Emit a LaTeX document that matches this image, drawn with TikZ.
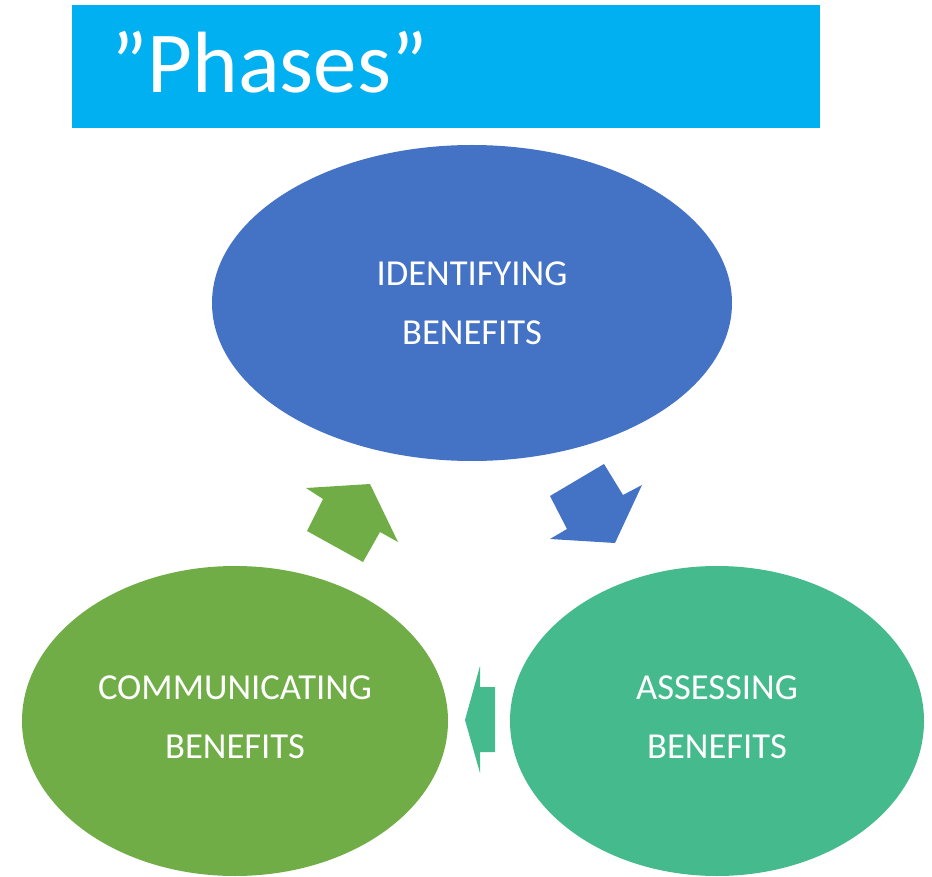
\documentclass[tikz,border=0pt]{standalone}
\usepackage{fontspec}
\setmainfont{Carlito}
\usetikzlibrary{shapes.geometric}

\definecolor{titlecyan}{HTML}{00B0F0}
\definecolor{phaseblue}{HTML}{4472C4}
\definecolor{phasegreen}{HTML}{70AD47}
\definecolor{phaseteal}{HTML}{44BA8D}

\tikzset{
  phase/.style={ellipse, inner sep=0pt, draw=none},
  phaselabel/.style={text=white, align=center, font=\fontsize{36.6}{59}\selectfont}
}

\begin{document}
\begin{tikzpicture}[x=1pt, y=-1pt]
\useasboundingbox (0,0) rectangle (932,877);

% title bar
\fill[titlecyan] (72,5) rectangle (820,128);
\node[anchor=base west, text=white, inner sep=0pt, font=\fontsize{87}{100}\selectfont] (title) at (111,93) {”Phases”};

% the three phases
\node[phase, fill=phaseblue, minimum width=520pt, minimum height=316pt] (ident) at (472,303) {};
\node[phase, fill=phasegreen, minimum width=426pt, minimum height=310pt] (comm) at (235,721) {};
\node[phase, fill=phaseteal, minimum width=414pt, minimum height=310pt] (assess) at (717,721) {};

\node[phaselabel] (identtxt) at (ident.center) {IDENTIFYING\\BENEFITS};
\node[phaselabel] (commtxt) at ([yshift=4pt]comm.center) {COMMUNICATING\\BENEFITS};
\node[phaselabel] (assesstxt) at ([yshift=4pt]assess.center) {ASSESSING\\BENEFITS};

% block arrows between phases
\fill[phaseblue] (550,496) -- (604,464) -- (623,495) -- (642,485) -- (615,543) -- (550,539) -- (567,529) -- cycle;
\fill[phaseteal] (465,720) -- (480,666) -- (480,687) -- (495,687) -- (495,752) -- (480,752) -- (480,773) -- cycle;
\fill[phasegreen] (306,488) -- (370,484) -- (398,542) -- (380,532) -- (363,562) -- (307,531) -- (323,499) -- cycle;
\end{tikzpicture}
\end{document}
